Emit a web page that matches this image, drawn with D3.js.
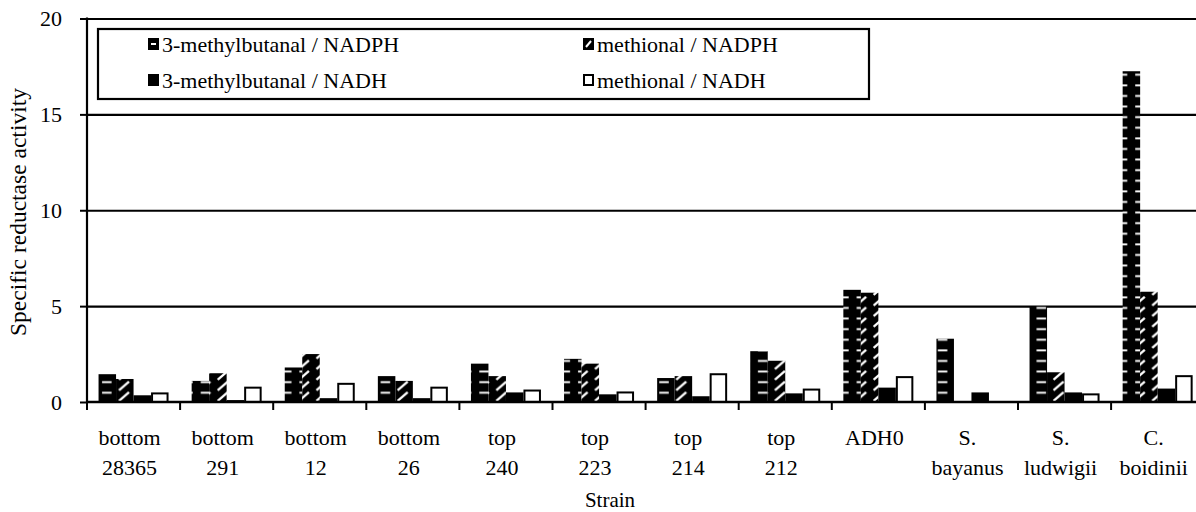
<!DOCTYPE html>
<html>
<head>
<meta charset="utf-8">
<script src="https://cdn.jsdelivr.net/npm/d3@7"></script>
<style>
  html, body { margin: 0; padding: 0; background: #fff; }
  svg { display: block; }
  svg text { font-family: "Liberation Serif", "Times New Roman", serif; fill: #000; }
</style>
</head>
<body>
<svg id="chart" width="1196" height="512"></svg>
<script>
// Strain labels (two lines each)
const strainLine1 = ["bottom", "bottom", "bottom", "bottom", "top", "top", "top", "top", "ADH0", "S.", "S.", "C."];
const strainLine2 = ["28365", "291", "12", "26", "240", "223", "214", "212", "", "bayanus", "ludwigii", "boidinii"];

// Specific reductase activity per strain
const methylbutanalNADPH = [1.45, 1.1, 1.8, 1.35, 2.0, 2.25, 1.25, 2.65, 5.85, 3.3, 5.0, 17.25];
const methionalNADPH     = [1.2, 1.5, 2.5, 1.1, 1.35, 2.0, 1.35, 2.15, 5.7, 0, 1.55, 5.75];
const methylbutanalNADH  = [0.35, 0.1, 0.2, 0.2, 0.5, 0.4, 0.3, 0.45, 0.75, 0.5, 0.5, 0.7];
const methionalNADH      = [0.5, 0.8, 1.0, 0.8, 0.65, 0.55, 1.5, 0.7, 1.35, 0, 0.45, 1.4];

const seriesNames = ["3-methylbutanal / NADPH", "methional / NADPH", "3-methylbutanal / NADH", "methional / NADH"];
const yTicks = [0, 5, 10, 15, 20];

const series = [methylbutanalNADPH, methionalNADPH, methylbutanalNADH, methionalNADH];
const strains = strainLine1.map((d, i) => i);

const FONT = "Liberation Serif, Times New Roman, serif";
const svg = d3.select("#chart").attr("font-family", FONT);
const defs = svg.append("defs");

const plotLeft = 87, plotTop = 18.5, plotBottom = 402, groupStep = 93.1;
const plotRight = plotLeft + groupStep * strains.length;

const x0 = d3.scaleBand().domain(strains).range([plotLeft, plotRight]).padding(0);
const x1 = d3.scaleBand().domain(d3.range(series.length)).range([0, x0.bandwidth()])
  .paddingInner(0).paddingOuter(0.66);
const y = d3.scaleLinear().domain([0, 20]).range([plotBottom, plotTop]);

// Gridlines
svg.append("g")
  .attr("transform", `translate(${plotLeft},0)`)
  .call(d3.axisLeft(y).tickValues(yTicks.filter(v => v > 0)).tickSize(-(plotRight - plotLeft)).tickFormat(""))
  .call(g => g.select(".domain").remove())
  .call(g => g.selectAll("line").attr("stroke", "#000").attr("stroke-width", 2.2));

// Patterns: horizontal dashes and diagonal strokes on black
const bw = x1.bandwidth();
function hatchPattern(id, bx, kind) {
  const p = defs.append("pattern")
    .attr("id", id)
    .attr("patternUnits", "userSpaceOnUse")
    .attr("x", bx).attr("y", y(0))
    .attr("width", bw).attr("height", 10.6);
  p.append("rect").attr("width", bw).attr("height", 10.6).attr("fill", "#000");
  if (kind === "dash") {
    p.append("rect").attr("x", 4).attr("y", 0.4).attr("width", bw - 8).attr("height", 1.9).attr("fill", "#fff");
  } else {
    p.append("line").attr("x1", 3.5).attr("y1", 9.6).attr("x2", bw - 4).attr("y2", 0.8)
      .attr("stroke", "#fff").attr("stroke-width", 2.3);
  }
}

strains.forEach(i => {
  hatchPattern(`dash-${i}`, x0(i) + x1(0), "dash");
  hatchPattern(`diag-${i}`, x0(i) + x1(1), "diag");
});

const fills = [i => `url(#dash-${i})`, i => `url(#diag-${i})`, () => "#000", () => "#fff"];

// Bars
const groups = svg.append("g").selectAll("g")
  .data(strains).join("g")
  .attr("transform", i => `translate(${x0(i)},0)`);

groups.selectAll("rect")
  .data(i => series.map((s, k) => ({ i, k, v: s[i] })).filter(d => d.v > 0))
  .join("rect")
  .attr("x", d => x1(d.k) + (d.k === 3 ? 1 : 0))
  .attr("y", d => y(d.v) + (d.k === 3 ? 1 : 0))
  .attr("width", d => bw - (d.k === 3 ? 2 : 0))
  .attr("height", d => y(0) - y(d.v) - (d.k === 3 ? 1 : 0))
  .attr("fill", d => fills[d.k](d.i))
  .attr("stroke", d => d.k === 3 ? "#000" : "none")
  .attr("stroke-width", 2);

// Y axis
const yAxis = svg.append("g")
  .attr("transform", `translate(${plotLeft},0)`)
  .call(d3.axisLeft(y).tickValues(yTicks).tickSize(7).tickPadding(18))
  .attr("font-family", FONT)
  .call(g => g.select(".domain").attr("d", `M0,${plotTop - 1}V${plotBottom}`).attr("stroke-width", 2.2))
  .call(g => g.selectAll("line").attr("stroke-width", 2));
yAxis.selectAll("text")
  .attr("font-family", FONT)
  .attr("font-size", 22).attr("fill", "#000");

// X axis line and group boundary ticks
svg.append("line")
  .attr("x1", plotLeft).attr("x2", plotRight)
  .attr("y1", y(0)).attr("y2", y(0))
  .attr("stroke", "#000").attr("stroke-width", 2.4);

svg.append("g").selectAll("line")
  .data(strains.concat([strains.length]))
  .join("line")
  .attr("x1", i => i < strains.length ? x0(i) : plotRight)
  .attr("x2", i => i < strains.length ? x0(i) : plotRight)
  .attr("y1", y(0)).attr("y2", y(0) + 8)
  .attr("stroke", "#000").attr("stroke-width", 2);

// Category labels
const labels = svg.append("g")
  .attr("font-family", FONT)
  .attr("font-size", 22)
  .attr("text-anchor", "middle");
labels.selectAll("text.l1").data(strains).join("text")
  .attr("class", "l1")
  .attr("x", i => x0(i) + x0.bandwidth() / 2 - 4)
  .attr("y", 445)
  .text(i => strainLine1[i]);
labels.selectAll("text.l2").data(strains).join("text")
  .attr("class", "l2")
  .attr("x", i => x0(i) + x0.bandwidth() / 2 - 4)
  .attr("y", 475)
  .text(i => strainLine2[i]);

// Axis titles
svg.append("text")
  .attr("x", 610).attr("y", 507)
  .attr("font-family", FONT)
  .attr("text-anchor", "middle").attr("font-size", 21)
  .text("Strain");

svg.append("text")
  .attr("transform", "translate(26,212) rotate(-90)")
  .attr("font-family", FONT)
  .attr("text-anchor", "middle").attr("font-size", 23.5)
  .text("Specific reductase activity");

// Legend
const legend = svg.append("g").attr("font-family", FONT);
legend.append("rect")
  .attr("x", 98).attr("y", 29).attr("width", 771).attr("height", 70)
  .attr("fill", "#fff").attr("stroke", "#000").attr("stroke-width", 2.2);

const legendPos = [[148, 44], [583, 44], [148, 80], [583, 80]];
seriesNames.forEach((name, k) => {
  const [lx, ly] = legendPos[k];
  const g = legend.append("g").attr("transform", `translate(${lx},${ly})`);
  if (k === 3) {
    g.append("rect").attr("x", 1).attr("y", -5).attr("width", 9).attr("height", 10)
      .attr("fill", "#fff").attr("stroke", "#000").attr("stroke-width", 2);
  } else {
    g.append("rect").attr("x", 0).attr("y", -6).attr("width", 11).attr("height", 12).attr("fill", "#000");
    if (k === 0) g.append("rect").attr("x", 3).attr("y", -1).attr("width", 5).attr("height", 2).attr("fill", "#fff");
    if (k === 1) g.append("line").attr("x1", 3).attr("y1", 3).attr("x2", 8).attr("y2", -3)
      .attr("stroke", "#fff").attr("stroke-width", 2);
  }
  g.append("text").attr("x", 14).attr("y", 7.5).attr("font-size", 22).text(name);
});
</script>
</body>
</html>
